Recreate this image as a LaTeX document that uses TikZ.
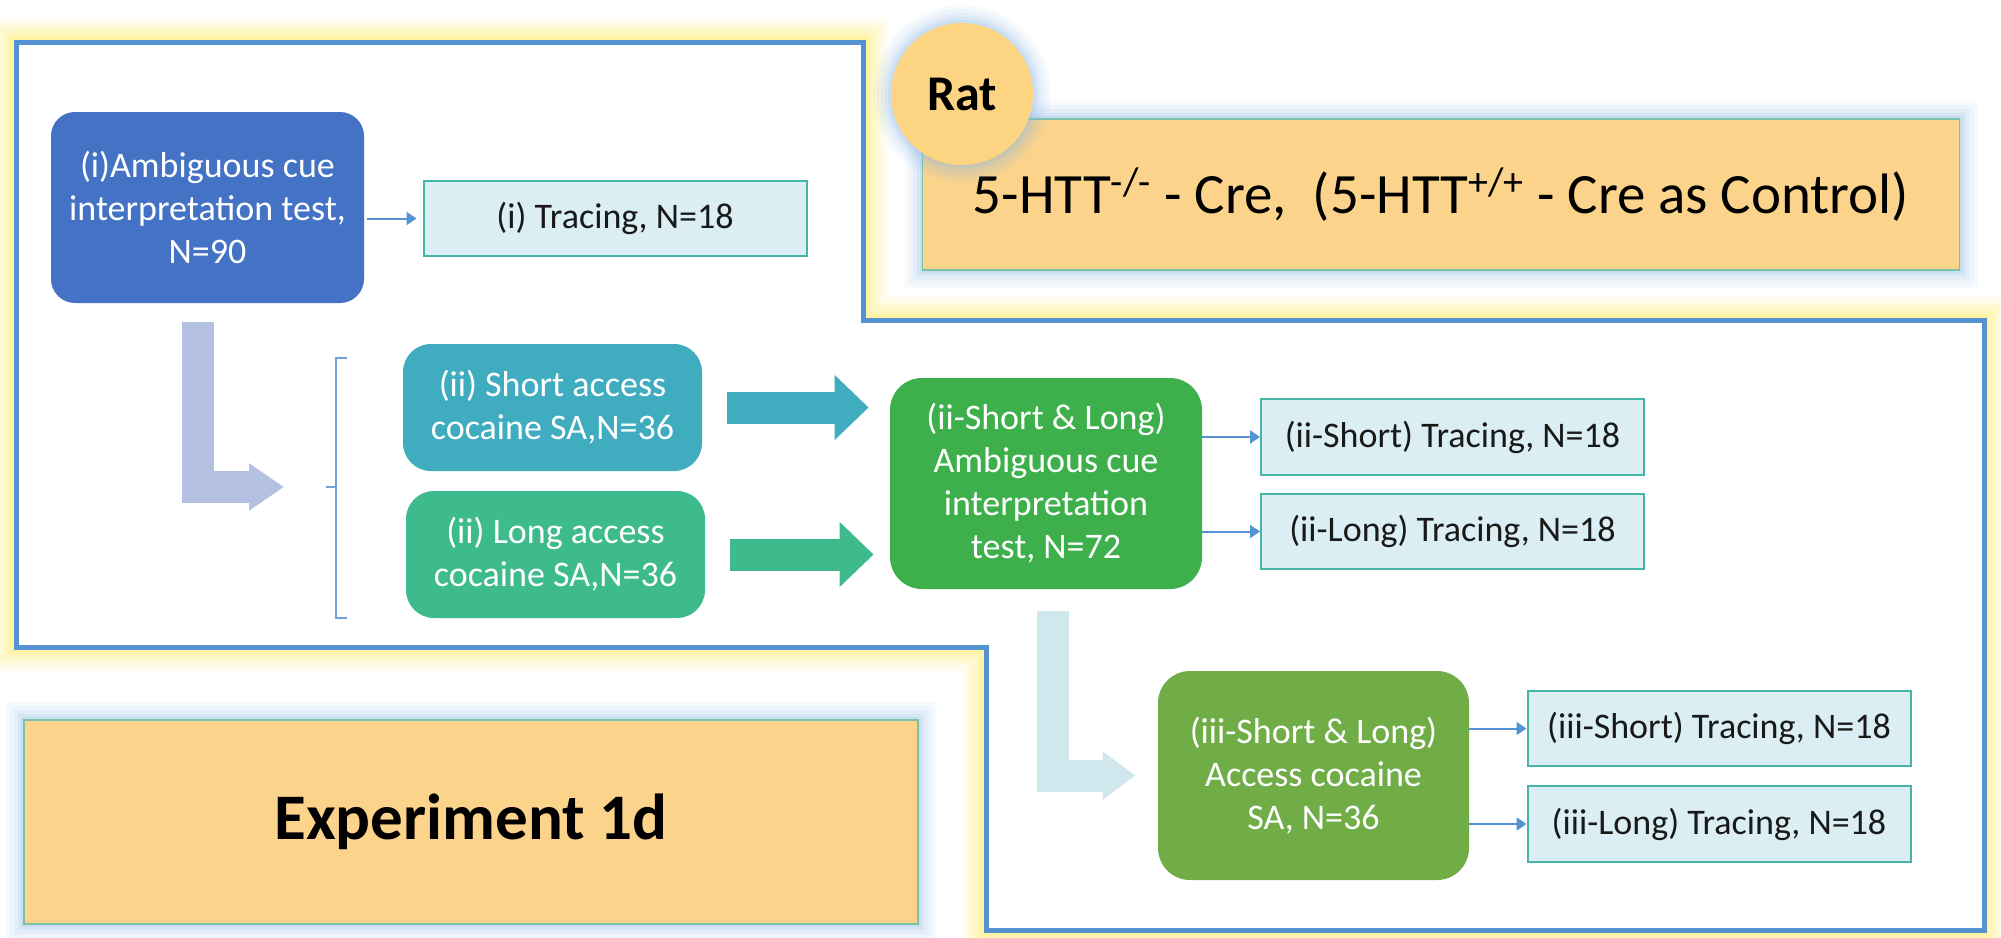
\documentclass[tikz,border=0pt]{standalone}
\usepackage{fontspec}
\setmainfont{Carlito}
\usetikzlibrary{positioning,arrows.meta}

\definecolor{frameblue}{HTML}{5592D2}
\definecolor{glowyellow}{HTML}{FFEA60}
\definecolor{glowblue}{HTML}{8DB9E4}
\definecolor{boxblue}{HTML}{4472C4}
\definecolor{boxteal}{HTML}{3FACBF}
\definecolor{boxsea}{HTML}{3DBB8C}
\definecolor{boxgreen}{HTML}{3DB04B}
\definecolor{boxolive}{HTML}{70AD47}
\definecolor{tracefill}{HTML}{DAEEF3}
\definecolor{traceline}{HTML}{46B5A9}
\definecolor{orangefill}{HTML}{FCD38A}
\definecolor{orangeline}{HTML}{7CC2A8}
\definecolor{ratfill}{HTML}{FDD582}
\definecolor{lavender}{HTML}{B4C1E3}
\definecolor{lightcyan}{HTML}{D0E7EE}

\begin{document}
\begin{tikzpicture}[x=0.5pt, y=-0.5pt,
    every node/.style={font=\fontsize{18}{21.5}\selectfont},
    yglow/.style={preaction={draw=glowyellow, line width=24pt, opacity=0.08},
                  preaction={draw=glowyellow, line width=20pt, opacity=0.1},
                  preaction={draw=glowyellow, line width=16pt, opacity=0.12},
                  preaction={draw=glowyellow, line width=12pt, opacity=0.14},
                  preaction={draw=glowyellow, line width=8pt, opacity=0.16},
                  preaction={draw=glowyellow, line width=5pt, opacity=0.2}},
    bglow/.style={preaction={draw=glowblue, line width=18pt, opacity=0.07},
                  preaction={draw=glowblue, line width=14pt, opacity=0.09},
                  preaction={draw=glowblue, line width=10pt, opacity=0.11},
                  preaction={draw=glowblue, line width=6pt, opacity=0.14},
                  preaction={draw=glowblue, line width=3pt, opacity=0.18}},
    colbox/.style={rectangle, rounded corners=12pt, text=white, align=center, inner sep=0pt},
    tracebox/.style={rectangle, draw=traceline, line width=1pt, fill=tracefill, text=black!90,
                     minimum width=191.5pt, minimum height=37.75pt, inner sep=0pt},
    orangebox/.style={rectangle, draw=orangeline, line width=0.8pt, fill=orangefill, inner sep=0pt},
    thinarr/.style={-{Triangle[length=5pt,width=6.5pt]}, draw=frameblue, line width=1pt},
    fatarr/.style={-{Triangle[length=17pt,width=31.5pt]}, line width=16pt},
    bendarr/.style={line width=16pt},
    brkline/.style={draw=frameblue!85, line width=0.8pt}]
  \useasboundingbox (0,0) rectangle (2001,937);

  % frame
  \draw[yglow, draw=frameblue, line width=2.5pt, fill=white]
    (16,42) -- (863,42) -- (863,320) -- (1984,320) -- (1984,930)
    -- (986,930) -- (986,647) -- (16,647) -- cycle;

  % labels
  \node[orangebox, bglow, minimum width=518.5pt, minimum height=75.5pt,
        font=\fontsize{28.5}{34}\selectfont] (geno) at (1441,194.5)
        {5-HTT\textsuperscript{-/-} - Cre, \ (5-HTT\textsuperscript{+/+} - Cre as Control)};
  \node[circle, fill=ratfill, bglow, minimum size=71pt, inner sep=0pt,
        font=\bfseries\fontsize{25}{30}\selectfont] (rat) at (962,94) {Rat};
  \node[orangebox, bglow, minimum width=447pt, minimum height=102pt,
        font=\bfseries\fontsize{32.5}{39}\selectfont] (exp) at (471,822) {Experiment 1d};

  % stage i
  \node[colbox, fill=boxblue, minimum width=156.5pt, minimum height=95.5pt] (amb) at (207.5,207.5)
        {(i)Ambiguous cue\\interpretation test,\\N=90};
  \node[tracebox] (trI) at (615,218.5) {(i) Tracing, N=18};

  % stage ii
  \node[colbox, fill=boxteal, rounded corners=14pt, minimum width=149.5pt, minimum height=63.5pt]
        (shortSA) at (552.5,407.5) {(ii) Short access\\cocaine SA,N=36};
  \node[colbox, fill=boxsea, rounded corners=14pt, minimum width=149.5pt, minimum height=63.5pt]
        (longSA) at (555.5,554.5) {(ii) Long access\\cocaine SA,N=36};
  \node[colbox, fill=boxgreen, rounded corners=16pt, minimum width=156pt, minimum height=105.5pt]
        (ambII) at (1046,483.5) {(ii-Short \& Long)\\Ambiguous cue\\interpretation\\test, N=72};
  \node[tracebox] (trIIs) at (1452.5,437) {(ii-Short) Tracing, N=18};
  \node[tracebox, below=8.5pt of trIIs] (trIIl) {(ii-Long) Tracing, N=18};

  % stage iii
  \node[colbox, fill=boxolive, rounded corners=16pt, minimum width=155.5pt, minimum height=104.5pt]
        (saIII) at (1313.5,775.5) {(iii-Short \& Long)\\Access cocaine\\SA, N=36};
  \node[tracebox] (trIIIs) at (1719,728.5) {(iii-Short) Tracing, N=18};
  \node[tracebox, below=9pt of trIIIs] (trIIIl) {(iii-Long) Tracing, N=18};

  % bracket
  \coordinate (brace) at (326,487);
  \draw[brkline] (347,358) -- (336,358) -- (336,618) -- (347,618);
  \draw[brkline] (336,487) -- (brace);

  % big bent arrows
  \coordinate (lavTop) at (198,322);
  \coordinate (cyTop) at (1053,611);
  \draw[bendarr, draw=lavender, -{Triangle[length=17.5pt,width=22.5pt]}, shorten >=21pt]
    (lavTop) |- (brace);
  \draw[bendarr, draw=lightcyan, -{Triangle[length=16.5pt,width=23pt]}, shorten >=11pt]
    (cyTop) |- (saIII.west);

  % fat arrows
  \draw[fatarr, draw=boxteal, shorten <=12.5pt, shorten >=10.5pt] (shortSA.east) -- (shortSA.east -| ambII.west);
  \draw[fatarr, draw=boxsea, shorten <=12.5pt, shorten >=8pt] (longSA.east) -- (longSA.east -| ambII.west);

  % thin arrows
  \draw[thinarr, shorten <=1.5pt, shorten >=3pt] (amb.east |- trI.west) -- (trI.west);
  \draw[thinarr] (ambII.east |- trIIs.west) -- (trIIs.west);
  \draw[thinarr] (ambII.east |- trIIl.west) -- (trIIl.west);
  \draw[thinarr] (saIII.east |- trIIIs.west) -- (trIIIs.west);
  \draw[thinarr] (saIII.east |- trIIIl.west) -- (trIIIl.west);
\end{tikzpicture}
\end{document}
